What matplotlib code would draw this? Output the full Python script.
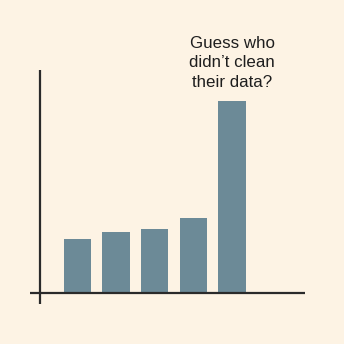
import matplotlib.pyplot as plt

# bar heights (arbitrary units, the last one is the "dirty data" outlier)
positions = [0, 1, 2, 3, 4]
values = [28, 32, 33.5, 39, 100]
note = "Guess who\ndidn\u2019t clean\ntheir data?"

bg = "#fdf3e4"
bar_color = "#6c8a97"
line_color = "#2a2a2a"

fig = plt.figure(figsize=(3.44, 3.44), dpi=100, facecolor=bg)
ax = fig.add_axes([30 / 344, 40 / 344, 275 / 344, 234 / 344])
ax.set_facecolor(bg)

ax.bar(positions, values, width=0.71, color=bar_color, zorder=2)

ax.set_xlim(-1.22, 5.88)
ax.set_ylim(-5.56, 115.9)

# hand-drawn looking axes that overshoot each other
ax.axvline(-0.97, color=line_color, lw=1.6, zorder=3)
ax.axhline(0, color=line_color, lw=1.6, zorder=3)

for s in ax.spines.values():
    s.set_visible(False)
ax.set_xticks([])
ax.set_yticks([])

ax.text(4, 119.6, note, ha="center", va="center", fontsize=12.2,
        family="Liberation Sans", color="#1e1e1e", linespacing=1.4,
        clip_on=False)

fig.savefig("out.png", dpi=100, facecolor=bg)
